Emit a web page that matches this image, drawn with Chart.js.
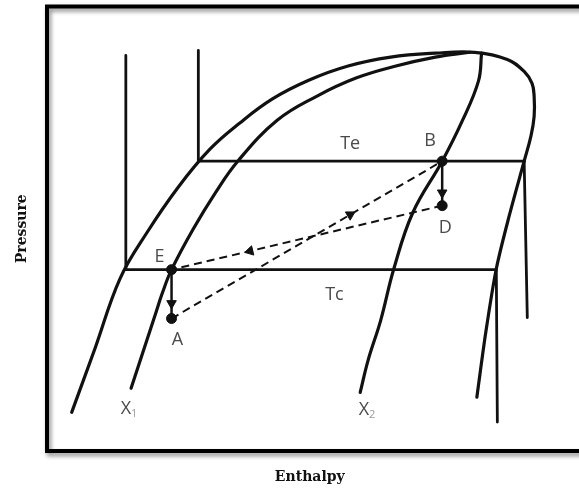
<!DOCTYPE html>
<html lang="en">
<head>
<meta charset="UTF-8">
<title>Pressure - Enthalpy</title>
<script src="https://cdn.jsdelivr.net/npm/chart.js@4.4.1/dist/chart.umd.min.js"></script>
<style>
    html, body { margin: 0; padding: 0; background: #fff; }
    #wrap { width: 579px; height: 492px; }
</style>
</head>
<body>
<div id="wrap"><canvas id="grafico" width="579" height="492"></canvas></div>
<script>
    // schematic values, arbitrary units 0-100 (enthalpy on x, pressure on y)
    // outer saturation dome, left foot up over the top and down to the Te line
    const domeH = [4.7, 9.2, 13.9, 19.0, 25.0, 31.0, 36.7, 42.9, 49.8, 57.3, 65.4, 73.9, 81.4, 87.6, 90.8, 92.3, 92.7, 92.7, 92.1, 90.8];
    const domeP = [8.7, 23.3, 38.8, 49.1, 59.4, 67.9, 73.8, 79.2, 83.4, 86.6, 88.6, 89.5, 89.7, 88.1, 85.4, 82.7, 79.8, 75.3, 70.9, 65.2];
    // dew side below Te
    const dewH = [90.8, 88.0, 85.5, 83.5, 81.8];
    const dewP = [65.2, 53.1, 41.0, 26.7, 12.1];

    const x1H = [16.0, 17.5, 19.0, 20.5, 22.0, 23.7, 27.8, 32.1, 36.3, 43.8, 51.3, 58.8, 66.4, 73.9, 80.5];
    const x1P = [14.1, 19.5, 24.9, 30.3, 35.7, 40.8, 49.9, 58.2, 65.2, 74.4, 79.8, 83.9, 86.6, 88.6, 89.7];

    const x2H = [82.7, 82.1, 79.0, 75.2, 69.6, 66.0, 63.5, 61.1, 59.6];
    const x2P = [89.5, 83.2, 74.2, 65.2, 53.6, 41.0, 29.4, 20.4, 13.2];

    // isotherms: vertical (liquid), flat (two-phase), steep (vapour)
    const teH = [28.8, 28.8, 90.8, 91.4];
    const teP = [90.1, 65.2, 65.2, 30.0];
    const tcH = [15.0, 15.0, 85.5, 85.7];
    const tcP = [89.0, 40.8, 40.8, 6.5];

    // cycle states
    const cycleNames = ['A', 'B', 'D', 'E'];
    const cycleH = [23.7, 75.2, 75.2, 23.7];
    const cycleP = [29.8, 65.2, 55.2, 40.8];

    // paths between states
    const pathFrom = ['B', 'E', 'A', 'D'];
    const pathTo = ['D', 'A', 'B', 'E'];
    const pathDashed = [false, false, true, true];
    const arrowAt = [0.71, 0.69, 0.66, 0.71];

    // text on the diagram
    const noteText = ['Te', 'Tc', 'B', 'D', 'E', 'A', 'X', 'X'];
    const noteSub = ['', '', '', '', '', '', '1', '2'];
    const noteH = [57.7, 54.7, 72.9, 75.8, 21.4, 24.8, 15.0, 60.3];
    const noteP = [69.1, 35.2, 69.7, 50.2, 43.7, 25.1, 9.4, 9.2];

    const INK = '#111';

    function pts(h, p) {
        return h.map((v, i) => ({ x: v, y: p[i] }));
    }
    function estado(nome) {
        const i = cycleNames.indexOf(nome);
        return { x: cycleH[i], y: cycleP[i] };
    }

    function curva(h, p, largura, tensao) {
        return {
            data: pts(h, p),
            showLine: true,
            borderColor: INK,
            borderWidth: largura,
            borderCapStyle: 'round',
            pointRadius: 0,
            tension: tensao,
            fill: false
        };
    }

    const datasets = [
        curva(domeH, domeP, 3.2, 0.4),
        curva(dewH, dewP, 3.2, 0.3),
        curva(x1H, x1P, 3.2, 0.4),
        curva(x2H, x2P, 3.2, 0.4),
        curva(teH, teP, 2.8, 0),
        curva(tcH, tcP, 2.8, 0)
    ];

    pathFrom.forEach((de, i) => {
        datasets.push({
            data: [estado(de), estado(pathTo[i])],
            showLine: true,
            borderColor: INK,
            borderWidth: pathDashed[i] ? 2 : 2.5,
            borderDash: pathDashed[i] ? [8, 5] : [],
            pointRadius: 0,
            tension: 0
        });
    });

    // arrow heads along each path
    datasets.push({
        data: pathFrom.map((de, i) => {
            const a = estado(de), b = estado(pathTo[i]);
            return { x: a.x + (b.x - a.x) * arrowAt[i], y: a.y + (b.y - a.y) * arrowAt[i] };
        }),
        showLine: false,
        pointStyle: 'triangle',
        pointRadius: 5.5,
        pointBackgroundColor: INK,
        pointBorderColor: INK,
        pointBorderWidth: 1,
        pointRotation: ctx => {
            const i = ctx.dataIndex;
            if (i === undefined) return 0;
            const a = estado(pathFrom[i]), b = estado(pathTo[i]);
            const xs = ctx.chart.scales.x, ys = ctx.chart.scales.y;
            const dx = xs.getPixelForValue(b.x) - xs.getPixelForValue(a.x);
            const dy = ys.getPixelForValue(b.y) - ys.getPixelForValue(a.y);
            return Math.atan2(dx, -dy) * 180 / Math.PI;
        }
    });

    // state dots
    datasets.push({
        data: pts(cycleH, cycleP),
        showLine: false,
        pointRadius: 5,
        pointBackgroundColor: INK,
        pointBorderColor: INK
    });

    const moldura = {
        id: 'moldura',
        afterDraw(chart) {
            const { ctx, chartArea: ca, scales } = chart;
            ctx.save();
            // frame with soft shadow (right side runs off the canvas)
            ctx.shadowColor = 'rgba(0,0,0,0.45)';
            ctx.shadowOffsetX = 2;
            ctx.shadowOffsetY = 3;
            ctx.shadowBlur = 4;
            ctx.strokeStyle = '#000';
            ctx.lineWidth = 4;
            ctx.beginPath();
            ctx.moveTo(ca.right + 20, ca.top);
            ctx.lineTo(ca.left, ca.top);
            ctx.lineTo(ca.left, ca.bottom);
            ctx.lineTo(ca.right + 20, ca.bottom);
            ctx.stroke();
            ctx.restore();

            ctx.save();
            ctx.textAlign = 'center';
            ctx.textBaseline = 'middle';
            noteText.forEach((t, i) => {
                const px = scales.x.getPixelForValue(noteH[i]);
                const py = scales.y.getPixelForValue(noteP[i]);
                ctx.font = '18px "Open Sans"';
                ctx.fillStyle = '#4a4a4a';
                ctx.fillText(t, px, py);
                if (noteSub[i]) {
                    const w = ctx.measureText(t).width;
                    ctx.font = '11px "Open Sans"';
                    ctx.fillStyle = '#9a9a9a';
                    ctx.textAlign = 'left';
                    ctx.fillText(noteSub[i], px + w / 2, py + 5);
                    ctx.textAlign = 'center';
                }
            });

            // axis titles
            ctx.fillStyle = '#111';
            ctx.font = 'bold 14px "DejaVu Serif"';
            ctx.fillText('Enthalpy', (ca.left + ca.right) / 2, 477);
            ctx.translate(22, (ca.top + ca.bottom) / 2);
            ctx.rotate(-Math.PI / 2);
            ctx.fillText('Pressure', 0, 0);
            ctx.restore();
        }
    };

    new Chart(document.getElementById('grafico'), {
        type: 'scatter',
        data: { datasets: datasets },
        options: {
            responsive: false,
            animation: false,
            layout: { padding: { left: 47, top: 5, right: 0, bottom: 41 } },
            plugins: { legend: { display: false }, tooltip: { enabled: false } },
            scales: {
                x: { display: false, min: 0, max: 100 },
                y: { display: false, min: 0, max: 100 }
            }
        },
        plugins: [moldura]
    });
</script>
</body>
</html>
